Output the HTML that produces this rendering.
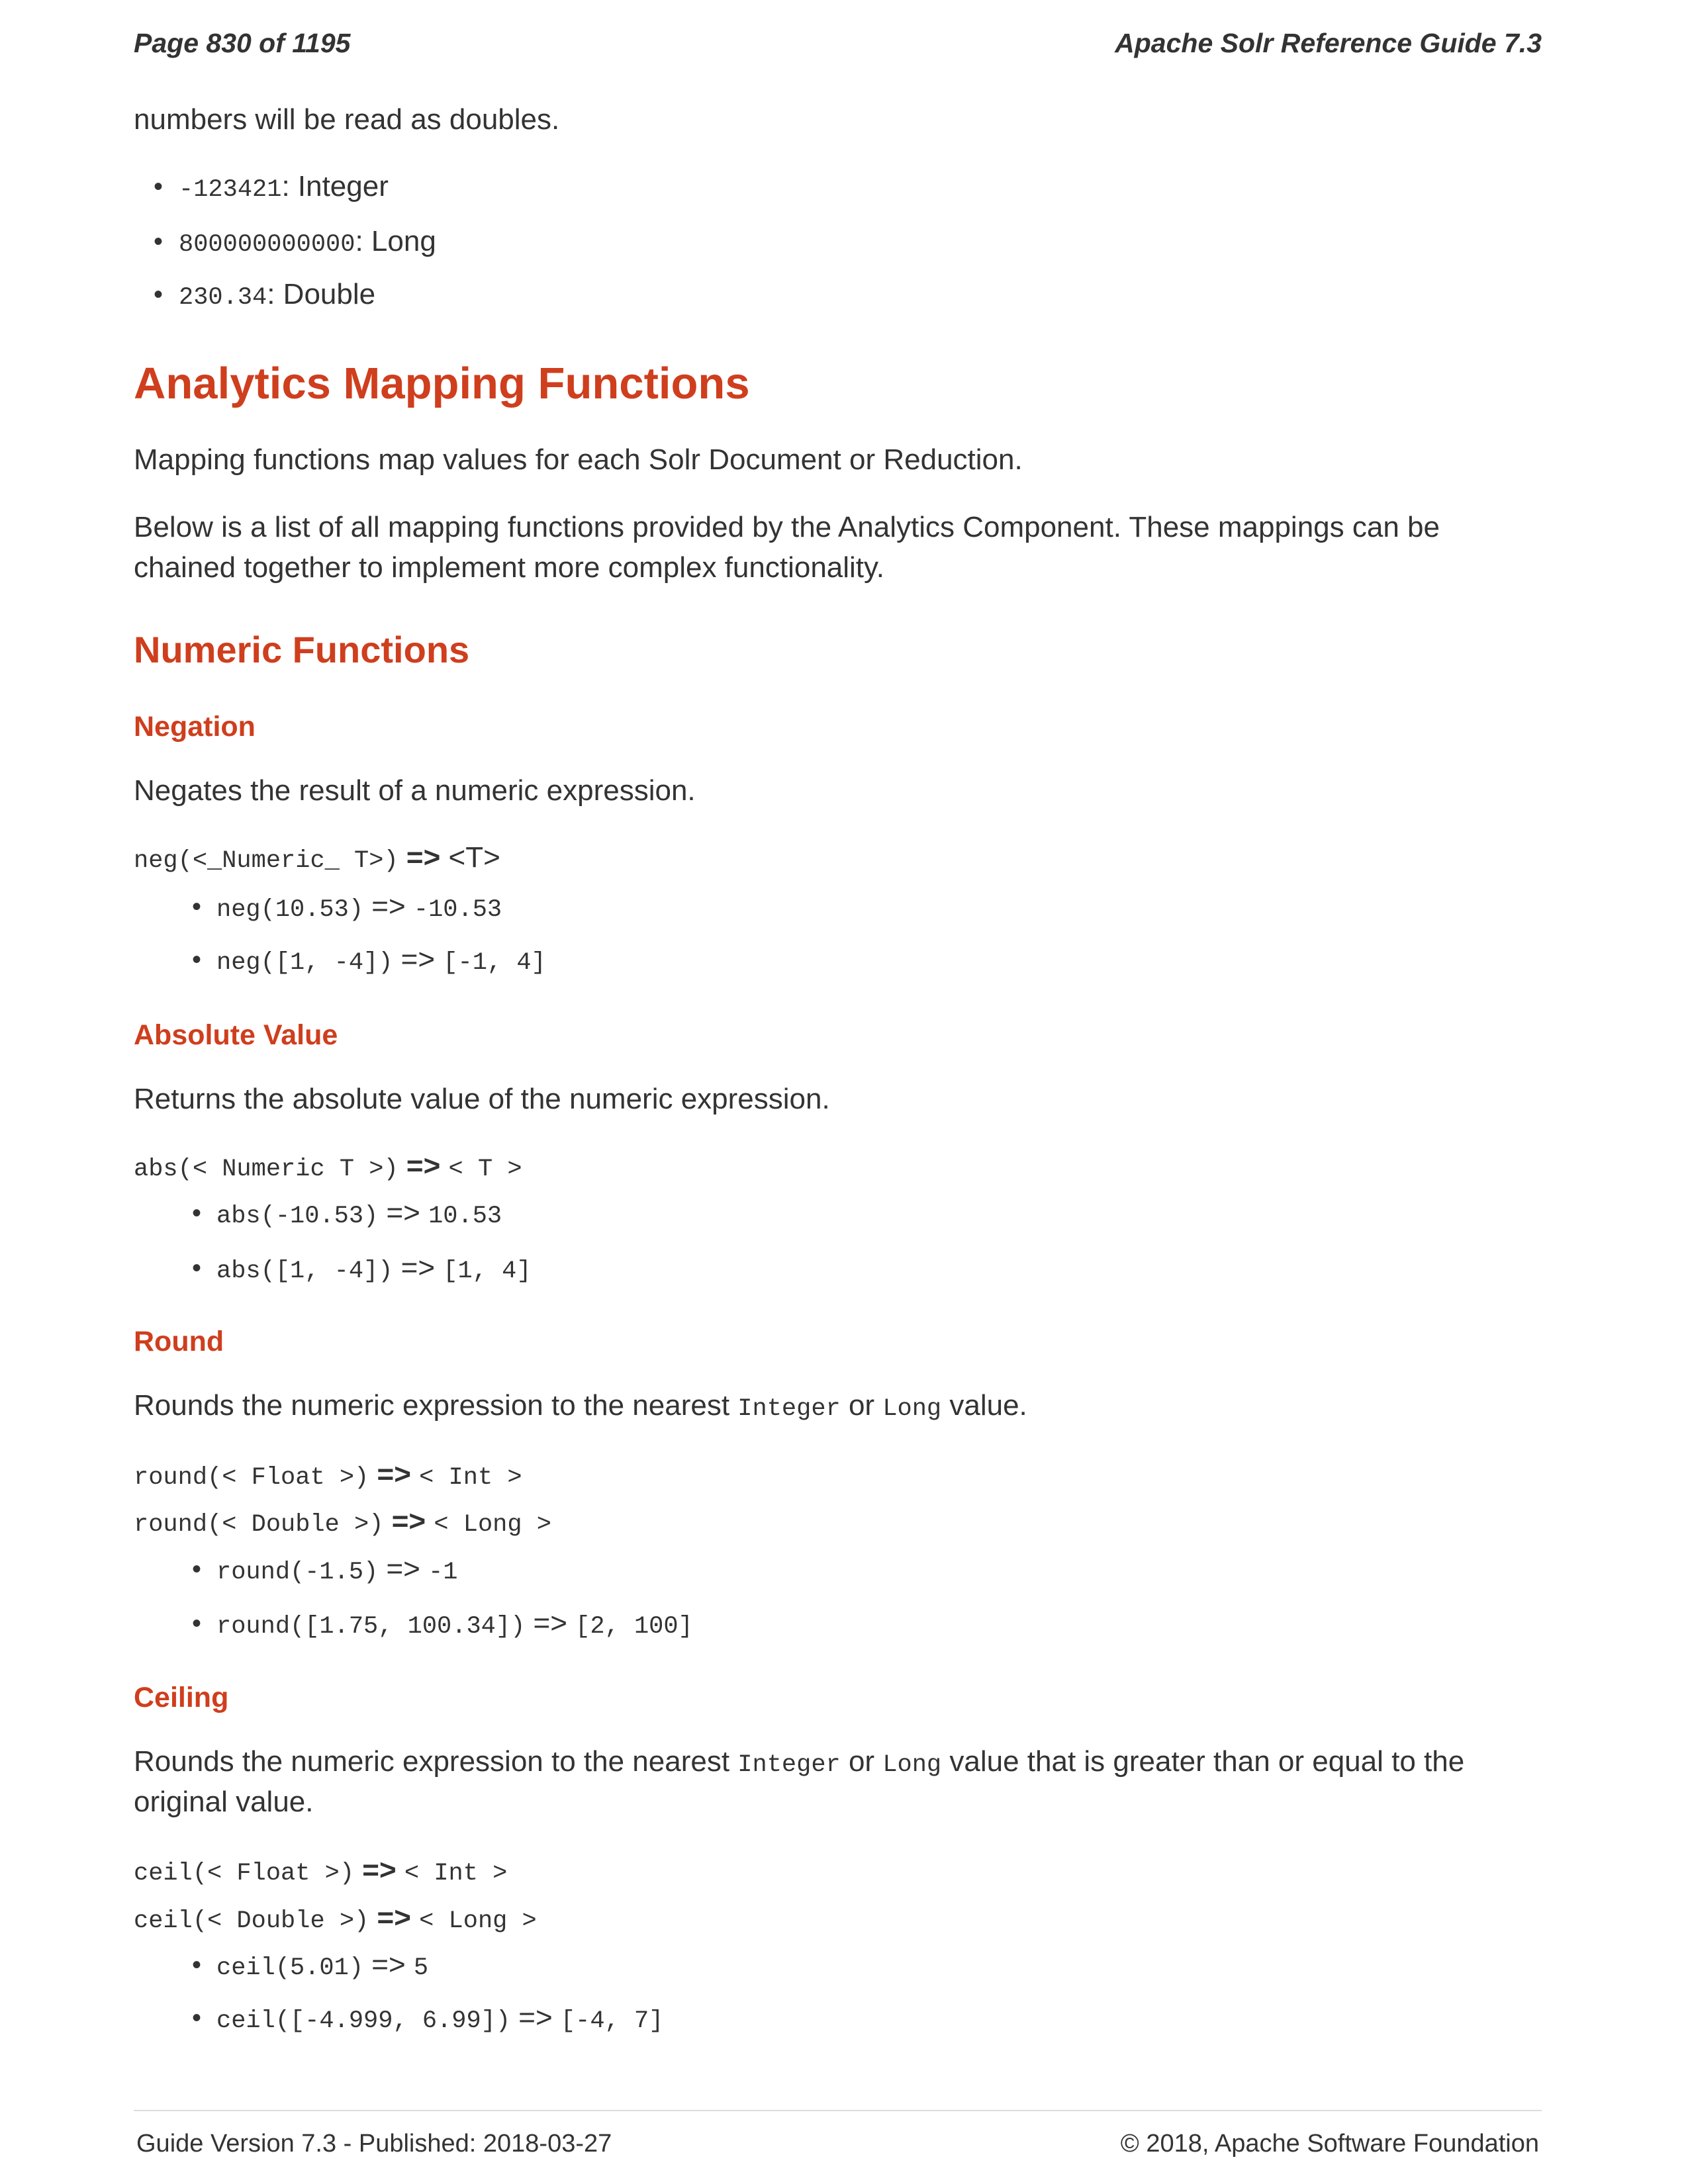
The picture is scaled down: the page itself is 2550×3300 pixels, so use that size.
<!DOCTYPE html>
<html><head><meta charset="utf-8"><style>
body{margin:0;width:2550px;height:3300px;background:#fff;position:relative;font-family:"Liberation Sans",sans-serif;color:#333;overflow:hidden}
.l{position:absolute;height:60px;line-height:60px;white-space:nowrap;font-size:44px}
.m{font-family:"Liberation Mono",monospace;font-size:37px}
.r{color:#cf3e1d;font-weight:bold}
.b{position:absolute;font-size:40px;height:60px;line-height:60px}
</style></head><body>
<div class="l" style="top:35px;left:202px;font-weight:bold;font-style:italic;font-size:41px">Page 830 of 1195</div>
<div class="l" style="top:35px;right:221px;font-weight:bold;font-style:italic;font-size:41px">Apache Solr Reference Guide 7.3</div>

<div class="l" style="top:151px;left:202px">numbers will be read as doubles.</div>
<div class="b" style="top:252px;left:232px">•</div><div class="l" style="top:252px;left:270px"><span class="m">-123421</span>: Integer</div>
<div class="b" style="top:335px;left:232px">•</div><div class="l" style="top:335px;left:270px"><span class="m">800000000000</span>: Long</div>
<div class="b" style="top:415px;left:232px">•</div><div class="l" style="top:415px;left:270px"><span class="m">230.34</span>: Double</div>

<div class="l r" style="top:550px;left:202px;font-size:67px">Analytics Mapping Functions</div>
<div class="l" style="top:665px;left:202px">Mapping functions map values for each Solr Document or Reduction.</div>
<div class="l" style="top:767px;left:202px">Below is a list of all mapping functions provided by the Analytics Component. These mappings can be</div>
<div class="l" style="top:828px;left:202px">chained together to implement more complex functionality.</div>

<div class="l r" style="top:952px;left:202px;font-size:56px">Numeric Functions</div>

<div class="l r" style="top:1068px;left:202px;font-size:43px">Negation</div>
<div class="l" style="top:1165px;left:202px">Negates the result of a numeric expression.</div>
<div class="l" style="top:1266px;left:202px"><span class="m">neg(&lt;_Numeric_ T&gt;)</span> <b>=&gt;</b> &lt;T&gt;</div>
<div class="b" style="top:1340px;left:290px">•</div><div class="l" style="top:1340px;left:327px"><span class="m">neg(10.53)</span> =&gt; <span class="m">-10.53</span></div>
<div class="b" style="top:1420px;left:290px">•</div><div class="l" style="top:1420px;left:327px"><span class="m">neg([1, -4])</span> =&gt; <span class="m">[-1, 4]</span></div>

<div class="l r" style="top:1534px;left:202px;font-size:43px">Absolute Value</div>
<div class="l" style="top:1631px;left:202px">Returns the absolute value of the numeric expression.</div>
<div class="l" style="top:1732px;left:202px"><span class="m">abs(&lt; Numeric T &gt;)</span> <b>=&gt;</b> <span class="m">&lt; T &gt;</span></div>
<div class="b" style="top:1803px;left:290px">•</div><div class="l" style="top:1803px;left:327px"><span class="m">abs(-10.53)</span> =&gt; <span class="m">10.53</span></div>
<div class="b" style="top:1886px;left:290px">•</div><div class="l" style="top:1886px;left:327px"><span class="m">abs([1, -4])</span> =&gt; <span class="m">[1, 4]</span></div>

<div class="l r" style="top:1997px;left:202px;font-size:43px">Round</div>
<div class="l" style="top:2094px;left:202px">Rounds the numeric expression to the nearest <span class="m">Integer</span> or <span class="m">Long</span> value.</div>
<div class="l" style="top:2198px;left:202px"><span class="m">round(&lt; Float &gt;)</span> <b>=&gt;</b> <span class="m">&lt; Int &gt;</span></div>
<div class="l" style="top:2269px;left:202px"><span class="m">round(&lt; Double &gt;)</span> <b>=&gt;</b> <span class="m">&lt; Long &gt;</span></div>
<div class="b" style="top:2341px;left:290px">•</div><div class="l" style="top:2341px;left:327px"><span class="m">round(-1.5)</span> =&gt; <span class="m">-1</span></div>
<div class="b" style="top:2423px;left:290px">•</div><div class="l" style="top:2423px;left:327px"><span class="m">round([1.75, 100.34])</span> =&gt; <span class="m">[2, 100]</span></div>

<div class="l r" style="top:2535px;left:202px;font-size:43px">Ceiling</div>
<div class="l" style="top:2632px;left:202px">Rounds the numeric expression to the nearest <span class="m">Integer</span> or <span class="m">Long</span> value that is greater than or equal to the</div>
<div class="l" style="top:2693px;left:202px">original value.</div>
<div class="l" style="top:2796px;left:202px"><span class="m">ceil(&lt; Float &gt;)</span> <b>=&gt;</b> <span class="m">&lt; Int &gt;</span></div>
<div class="l" style="top:2868px;left:202px"><span class="m">ceil(&lt; Double &gt;)</span> <b>=&gt;</b> <span class="m">&lt; Long &gt;</span></div>
<div class="b" style="top:2939px;left:290px">•</div><div class="l" style="top:2939px;left:327px"><span class="m">ceil(5.01)</span> =&gt; <span class="m">5</span></div>
<div class="b" style="top:3019px;left:290px">•</div><div class="l" style="top:3019px;left:327px"><span class="m">ceil([-4.999, 6.99])</span> =&gt; <span class="m">[-4, 7]</span></div>

<div style="position:absolute;top:3188px;left:202px;width:2127px;height:2px;background:#ddd"></div>
<div class="l" style="top:3209px;left:206px;font-size:38px">Guide Version 7.3 - Published: 2018-03-27</div>
<div class="l" style="top:3209px;right:225px;font-size:38px">© 2018, Apache Software Foundation</div>
</body></html>
